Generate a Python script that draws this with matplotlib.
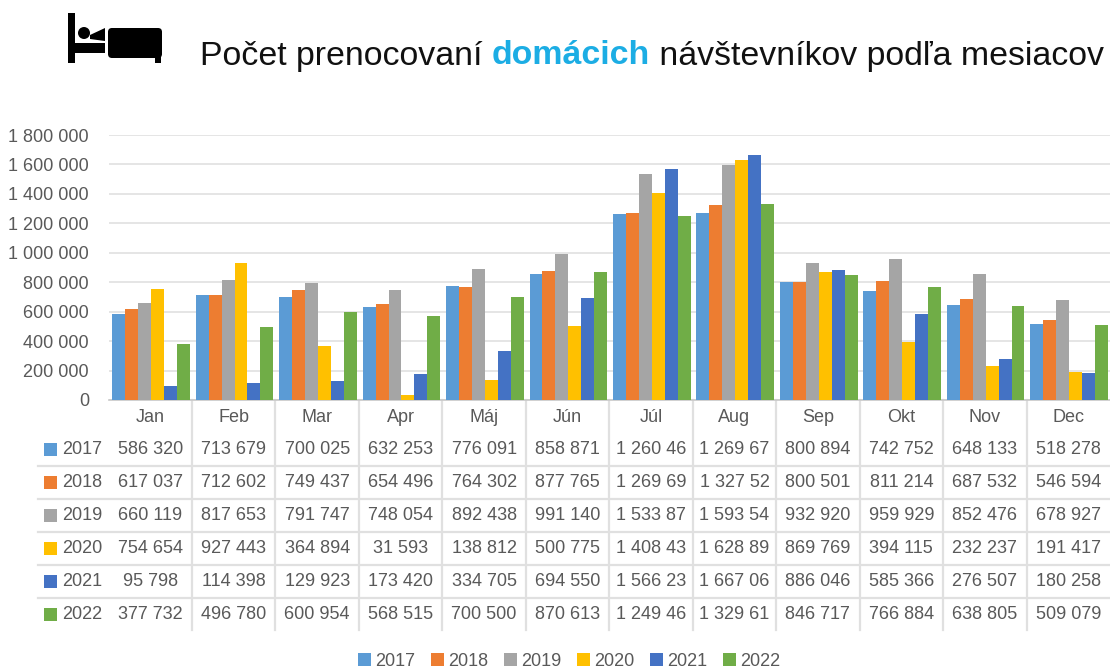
import matplotlib
matplotlib.use('Agg')
import matplotlib.pyplot as plt
from matplotlib.patches import Rectangle, FancyBboxPatch, Circle, Polygon
import numpy as np

plt.rcParams['font.family'] = ['Liberation Sans', 'DejaVu Sans']

months = ['Jan', 'Feb', 'Mar', 'Apr', 'Máj', 'Jún', 'Júl', 'Aug', 'Sep', 'Okt', 'Nov', 'Dec']
years = ['2017', '2018', '2019', '2020', '2021', '2022']
colors = ['#5B9BD5', '#ED7D31', '#A5A5A5', '#FFC000', '#4472C4', '#70AD47']

# last digit of the Jul/Aug values is cut off in the source table
v2017 = [586320, 713679, 700025, 632253, 776091, 858871, 1260460, 1269670, 800894, 742752, 648133, 518278]
v2018 = [617037, 712602, 749437, 654496, 764302, 877765, 1269690, 1327520, 800501, 811214, 687532, 546594]
v2019 = [660119, 817653, 791747, 748054, 892438, 991140, 1533870, 1593540, 932920, 959929, 852476, 678927]
v2020 = [754654, 927443, 364894, 31593, 138812, 500775, 1408430, 1628890, 869769, 394115, 232237, 191417]
v2021 = [95798, 114398, 129923, 173420, 334705, 694550, 1566230, 1667060, 886046, 585366, 276507, 180258]
v2022 = [377732, 496780, 600954, 568515, 700500, 870613, 1249460, 1329610, 846717, 766884, 638805, 509079]
series = [v2017, v2018, v2019, v2020, v2021, v2022]

W, H = 1110, 670
text_col = '#595959'
line_col = '#E0E0E0'


def fmt(v):
    s = f'{v:,}'.replace(',', ' ')
    return s[:-1] if v >= 1000000 else s


fig = plt.figure(figsize=(W / 100, H / 100), dpi=100)

# overlay in pixel coordinates for title, icon and table
ov = fig.add_axes([0, 0, 1, 1])
ov.set_xlim(0, W)
ov.set_ylim(H, 0)
ov.axis('off')

left, right, top, bottom = 108.5, 1110, 135, 400
ax = fig.add_axes([left / W, 1 - bottom / H, (right - left) / W, (bottom - top) / H])
ax.patch.set_alpha(0)

bar_w = 0.155
x = np.arange(len(months))
for i, vals in enumerate(series):
    ax.bar(x + (i - 2.5) * bar_w + 0.01, vals, bar_w, color=colors[i], label=years[i], zorder=3)

ax.set_xlim(-0.5, 11.5)
ax.set_ylim(0, 1800000)
ax.set_yticks(range(0, 1800001, 200000))
ax.set_yticklabels([f'{t:,}'.replace(',', ' ') for t in range(0, 1800001, 200000)],
                   fontsize=13, color=text_col)
ax.set_xticks([])
ax.tick_params(axis='y', length=0, pad=14)
ax.grid(axis='y', color=line_col, lw=1.2, zorder=0)
for s in ['top', 'right', 'left']:
    ax.spines[s].set_visible(False)
ax.spines['bottom'].set_color('#C8C8C8')
ax.spines['bottom'].set_linewidth(1.2)

# title
title_y = 56
t1 = ov.text(200, title_y, 'Počet prenocovaní ', fontsize=24.4, color='#111111', va='center')
fig.canvas.draw()
r = fig.canvas.get_renderer()
bb = t1.get_window_extent(r)
t2 = ov.text(bb.x1, title_y, 'domácich', fontsize=24.4, color='#1CADE4', weight='bold', va='center')
bb = t2.get_window_extent(r)
ov.text(bb.x1, title_y, ' návštevníkov podľa mesiacov', fontsize=24.4, color='#111111', va='center')

# bed icon
ov.add_patch(Rectangle((68, 12.5), 6.5, 50.5, color='k', lw=0))
ov.add_patch(Rectangle((68, 43), 37, 10, color='k', lw=0))
ov.add_patch(Circle((84, 33), 6, color='k', lw=0))
ov.add_patch(Polygon([[90, 39], [90, 35], [105, 28], [105, 41]], color='k', lw=0))
ov.add_patch(FancyBboxPatch((108, 28), 54, 30, boxstyle='round,pad=0,rounding_size=4', color='k', lw=0))
ov.add_patch(Rectangle((155, 54), 6, 9, color='k', lw=0))

# data table under the axis
col_w = (right - left) / 12
row_h = 33
rows_top = 433
for k in range(1, 12):
    xv = left + k * col_w
    ov.plot([xv, xv], [400, 630], color=line_col, lw=1.6)
for j in range(1, 6):
    yh = rows_top + j * row_h
    ov.plot([38, right], [yh, yh], color=line_col, lw=1.6)

for k, m in enumerate(months):
    ov.text(left + (k + 0.5) * col_w, 418, m, fontsize=13, color=text_col, ha='center', va='center')

for j, vals in enumerate(series):
    yc = rows_top + (j + 0.5) * row_h
    ov.add_patch(Rectangle((44, yc - 7), 13, 13, color=colors[j], lw=0))
    ov.text(62, yc, years[j], fontsize=13, color=text_col, ha='left', va='center')
    for k, v in enumerate(vals):
        ov.text(left + (k + 0.5) * col_w, yc, fmt(v), fontsize=13, color=text_col, ha='center', va='center')

# legend at the bottom
handles, labels = ax.get_legend_handles_labels()
fig.legend(handles, labels, ncol=6, loc='center', bbox_to_anchor=(569 / W, 1 - 661 / H),
           frameon=False, fontsize=13, labelcolor=text_col, handlelength=0.72, handleheight=0.72,
           handletextpad=0.22, columnspacing=0.88, borderpad=0)

fig.savefig('out.png', dpi=100)
